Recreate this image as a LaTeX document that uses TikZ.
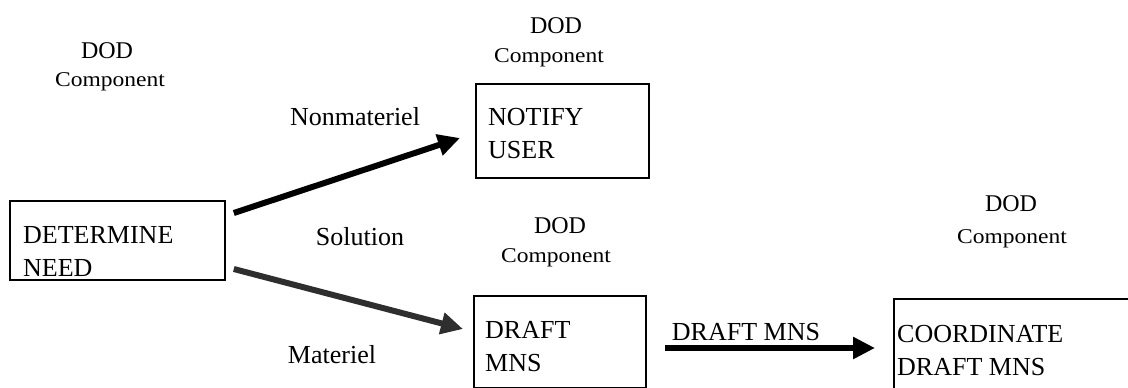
\documentclass[tikz,border=0pt]{standalone}
\usepackage{fontspec}
\setmainfont{Liberation Serif}
\newfontfamily\compfont[FakeStretch=1.12]{Liberation Serif}
\usetikzlibrary{arrows.meta}
\tikzset{
  box/.style={draw, line width=1.8pt, anchor=north west, inner sep=0pt},
  boxtext/.style={anchor=base west, align=left, inner sep=0pt, font=\fontsize{26}{33}\selectfont},
  lab/.style={anchor=base, inner sep=0pt, font=\fontsize{26}{32}\selectfont},
  dod/.style={anchor=base, inner sep=0pt, font=\fontsize{24}{28}\selectfont},
  comp/.style={anchor=base, inner sep=0pt, font=\compfont\fontsize{21}{24}\selectfont},
  arr/.style={line width=6pt, -{Triangle[length=22pt,width=21pt]}},
}
\begin{document}
\begin{tikzpicture}[x=1pt,y=-1pt]
\useasboundingbox (0,0) rectangle (1128,388);
\clip (0,0) rectangle (1128,388);
% boxes
\node[box, minimum width=215pt, minimum height=79pt] (det) at (9,200) {};
\node[box, minimum width=173pt, minimum height=94pt] (notify) at (475,83) {};
\node[box, minimum width=172pt, minimum height=92pt] (draft) at (473,295) {};
\node[box, minimum width=260pt, minimum height=96pt] (coord) at (893,298) {};
% box texts (anchor = baseline of the last line)
\node[boxtext] (detT) at (23,276) {DETERMINE\\NEED};
\node[boxtext] (notT) at (488,158) {NOTIFY\\USER};
\node[boxtext] (draT) at (485,371) {DRAFT\\MNS};
\node[boxtext] (cooT) at (897,375) {COORDINATE\\DRAFT MNS};
% DOD labels
\node[dod] (d1) at (107,58) {DOD};
\node[comp] (c1) at (110,86) {Component};
\node[dod] (d2) at (556,33) {DOD};
\node[comp] (c2) at (549,62) {Component};
\node[dod] (d3) at (560,233) {DOD};
\node[comp] (c3) at (556,262) {Component};
\node[dod] (d4) at (1011,211) {DOD};
\node[comp] (c4) at (1012,243) {Component};
% arrow labels
\node[lab] (nonmat) at (355,125) {Nonmateriel};
\node[lab] (sol) at (360,245) {Solution};
\node[lab] (mat) at (332,363) {Materiel};
\node[lab] (dmns) at (746,340) {DRAFT MNS};
% connectors
\draw[arr] ([shift={(8,13)}]det.north east) -- ([shift={(-15,55)}]notify.north west);
\draw[arr, black!82] ([shift={(8,69)}]det.north east) -- ([shift={(-10,34)}]draft.north west);
\draw[arr] ([shift={(18,53)}]draft.north east) -- ([shift={(-18,50)}]coord.north west);
\end{tikzpicture}
\end{document}
